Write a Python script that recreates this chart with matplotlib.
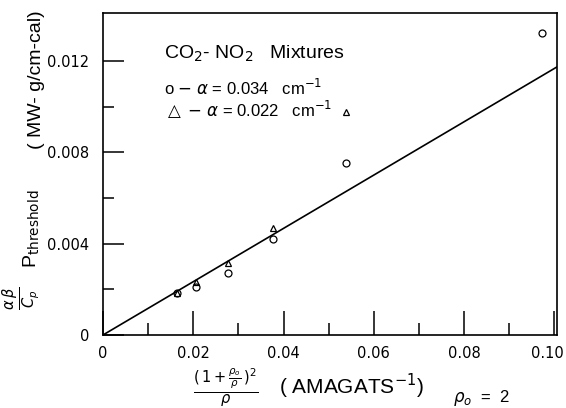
import matplotlib
matplotlib.use("Agg")
import matplotlib.pyplot as plt
from matplotlib.ticker import FixedFormatter, FixedLocator
from matplotlib.transforms import ScaledTranslation

# data
circ_x = [0.0163, 0.0205, 0.0278, 0.0377, 0.0539, 0.0972]
circ_y = [0.00183, 0.00212, 0.00273, 0.00422, 0.00752, 0.01323]
tri_x = [0.0163, 0.0205, 0.0278, 0.0377, 0.0539]
tri_y = [0.00183, 0.00234, 0.00314, 0.00470, 0.00978]
fit_x = [0.0, 0.1006]
fit_y = [0.0, 0.01174]

xticks = [0, 0.02, 0.04, 0.06, 0.08, 0.10]
xminor = [0.01, 0.03, 0.05, 0.07, 0.09]
xlabels = ["0", "0.02", "0.04", "0.06", "0.08", "0.10"]
yticks = [0, 0.004, 0.008, 0.012]
yminor = [0.002, 0.006, 0.010]
ylabels = ["0", "0.004", "0.008", "0.012"]

plt.rcParams["font.family"] = ["Liberation Sans", "DejaVu Sans"]
plt.rcParams["mathtext.fontset"] = "dejavusans"

fig = plt.figure(figsize=(5.66, 4.08), dpi=100)
ax = fig.add_axes([0.182, 0.179, 0.802, 0.789])

ax.plot(fit_x, fit_y, color="black", lw=1.2)
ax.plot(circ_x, circ_y, "o", mfc="none", mec="black", ms=5, mew=0.9)
ax.plot(tri_x, tri_y, "^", mfc="none", mec="black", ms=5, mew=0.9)

ax.set_xlim(0, 0.1006)
ax.set_ylim(0, 0.0141)

ax.xaxis.set_major_locator(FixedLocator(xticks))
ax.xaxis.set_major_formatter(FixedFormatter(xlabels))
ax.xaxis.set_minor_locator(FixedLocator(xminor))
ax.yaxis.set_major_locator(FixedLocator(yticks))
ax.yaxis.set_major_formatter(FixedFormatter(ylabels))
ax.yaxis.set_minor_locator(FixedLocator(yminor))

ax.tick_params(which="major", direction="in", length=17, width=1.1,
               labelsize=10.5, labelfontfamily="DejaVu Sans", pad=8)
ax.tick_params(which="minor", direction="in", length=9, width=1.1)
ax.tick_params(axis="y", which="major", length=15, pad=10)
ax.tick_params(axis="y", which="minor", length=8)
for s in ax.spines.values():
    s.set_linewidth(1.2)

# nudge the last x label in, like the original
last = ax.get_xticklabels()[-1]
last.set_transform(last.get_transform() +
                   ScaledTranslation(-7 / 100, 0, fig.dpi_scale_trans))

# in-plot legend text
ax.text(0.0135, 0.0123, r"CO$_2$- NO$_2$   Mixtures", fontsize=14, va="center")
ax.text(0.0135, 0.0108, r"o $-$ $\alpha$ = 0.034   cm$^{-1}$", fontsize=12,
        va="center")
ax.text(0.0135, 0.00986, r"$\triangle$ $-$ $\alpha$ = 0.022   cm$^{-1}$",
        fontsize=12, va="center")

# y axis label pieces
fig.text(0.038, 0.27, r"$\frac{\alpha\,\beta}{C_p}$", rotation=90,
         fontsize=15, ha="center", va="center")
fig.text(0.056, 0.44, r"P$_{\rm threshold}$", rotation=90,
         fontsize=14, ha="center", va="center")
fig.text(0.064, 0.805, "( MW- g/cm-cal)", rotation=90,
         fontsize=14, ha="center", va="center")

# x axis label pieces
fig.text(0.398, 0.05, r"$\frac{(\,1+\frac{\rho_o}{\rho}\,)^2}{\rho}$",
         fontsize=15, ha="center", va="center")
fig.text(0.62, 0.053, r"( AMAGATS$^{-1}$)", fontsize=15,
         ha="center", va="center")
fig.text(0.85, 0.025, r"$\rho_o$  =  2", fontsize=12,
         ha="center", va="center")

fig.savefig("out.png", dpi=100)
